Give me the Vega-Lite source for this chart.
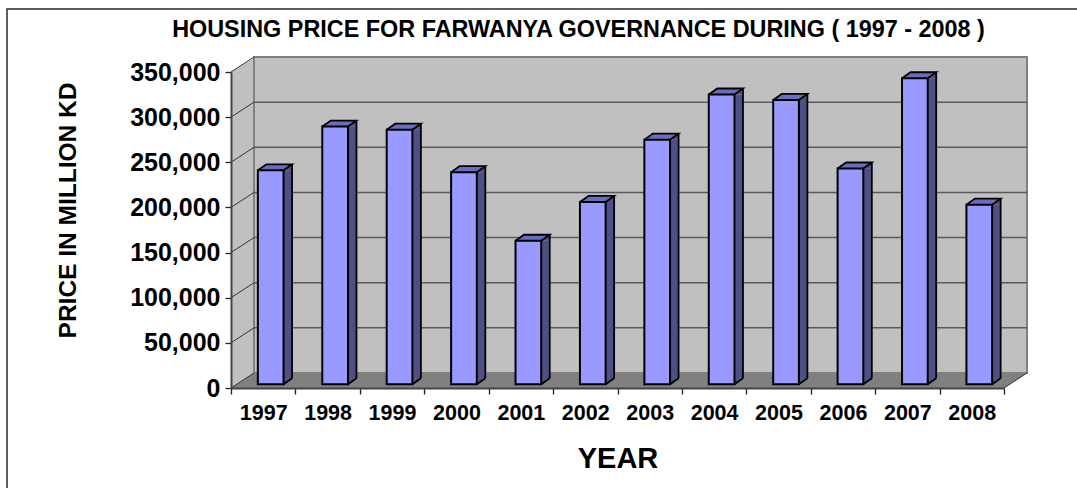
{
"$schema":"https://vega.github.io/schema/vega-lite/v6.json",
"width":773,"height":316,
"autosize":{"type":"none"},
"padding":{"left":231,"top":72,"right":73,"bottom":100},
"background":"white",
"config":{"view":{"stroke":null},"font":"Liberation Sans"},
"title":{"text":"HOUSING PRICE FOR FARWANYA GOVERNANCE DURING ( 1997 - 2008 )","font":"Liberation Sans","fontSize":23.4,"fontWeight":"bold","color":"#000000","anchor":"middle","dx":-39,"offset":-36},
"datasets":{
"bars":[
{"year":1997,"price":237000},{"year":1998,"price":285500},{"year":1999,"price":282000},{"year":2000,"price":235000},
{"year":2001,"price":159000},{"year":2002,"price":202000},{"year":2003,"price":271000},{"year":2004,"price":321000},
{"year":2005,"price":315000},{"year":2006,"price":239000},{"year":2007,"price":339000},{"year":2008,"price":199000}],
"ticks":[{"price":0},{"price":50000},{"price":100000},{"price":150000},{"price":200000},{"price":250000},{"price":300000},{"price":350000}],
"box":[{"x0":1996.5,"x1":2008.5,"p0":0,"p1":350000}]
},
"data":{"name":"bars"},
"resolve":{"axis":{"x":"independent","y":"independent"}},
"layer":[
{"data":{"name":"box"},"mark":{"type":"point","shape":"M-224 416L-224 -63L846 -63","size":4,"filled":false,"stroke":"#2a2a2a","strokeWidth":1.5,"opacity":1,"clip":false},
 "encoding":{"x":{"field":"x0","type":"quantitative","scale":{"domain":[1996.5,2008.5],"nice":false,"zero":false,"padding":0},
   "axis":{"values":[1996.5,1997.5,1998.5,1999.5,2000.5,2001.5,2002.5,2003.5,2004.5,2005.5,2006.5,2007.5,2008.5],"labelExpr":"datum.value<2008 ? format(datum.value+0.5,'d') : ''","labelOffset":32.2,"labelFlush":false,"labelOverlap":false,"labelFont":"Liberation Sans","labelFontSize":21.5,"labelFontWeight":"bold","labelColor":"#000000","labelPadding":8,"grid":false,"title":"YEAR","titleFontSize":29,"titleFontWeight":"bold","titleColor":"#000000","titlePadding":21,"tickColor":"#222222","tickSize":6,"tickWidth":1.3,"domainColor":"#444444","domainWidth":2,"zindex":1}},
  "y":{"field":"p1","type":"quantitative","scale":{"domain":[0,350000],"nice":false},
   "axis":{"values":[0,50000,100000,150000,200000,250000,300000,350000],"format":",d","grid":false,"title":"PRICE IN MILLION KD","titleFontSize":24.5,"titleFontWeight":"bold","titleColor":"#000000","titleX":-156,"titleY":138,"titleBaseline":"alphabetic","labelFont":"Liberation Sans","labelFontSize":25,"labelFontWeight":"bold","labelColor":"#000000","labelPadding":5,"tickColor":"#222222","tickSize":6,"tickWidth":1.3,"domainColor":"#444444","domainWidth":2,"zindex":1}}}},
{"data":{"name":"box"},"mark":{"type":"point","shape":"M0 0L23 -15L23 -330L0 -316Z","size":4,"filled":true,"fill":"#C0C0C0","stroke":null,"opacity":1},
 "encoding":{"x":{"field":"x0","type":"quantitative","axis":null},"y":{"field":"p0","type":"quantitative","axis":null}}},
{"data":{"name":"box"},"mark":{"type":"rect","fill":"#C0C0C0","stroke":"#808080","strokeWidth":2,"xOffset":23,"x2Offset":23,"yOffset":-15,"y2Offset":-15},
 "encoding":{"x":{"field":"x0","type":"quantitative","axis":null},"x2":{"field":"x1"},"y":{"field":"p0","type":"quantitative","axis":null},"y2":{"field":"p1"}}},
{"data":{"name":"ticks"},"transform":[{"filter":"datum.price>0 && datum.price<350000"}],"mark":{"type":"rule","stroke":"#5a5a5a","strokeWidth":1.5,"xOffset":23,"x2Offset":23,"yOffset":-15},
 "encoding":{"x":{"datum":1996.5,"type":"quantitative","axis":null},"x2":{"datum":2008.5},"y":{"field":"price","type":"quantitative","axis":null}}},
{"data":{"name":"box"},"mark":{"type":"point","shape":"M0 0L773 0L796 -15L23 -15Z","size":4,"filled":true,"fill":"#808080","stroke":null,"opacity":1},
 "encoding":{"x":{"field":"x0","type":"quantitative","axis":null},"y":{"field":"p0","type":"quantitative","axis":null}}},
{"data":{"name":"ticks"},"mark":{"type":"point","shape":"M0 0L23 -15","size":4,"filled":false,"stroke":"#333333","strokeWidth":1,"opacity":1},
 "encoding":{"x":{"datum":1996.5,"type":"quantitative","axis":null},"y":{"field":"price","type":"quantitative","axis":null}}},
{"data":{"name":"box"},"mark":{"type":"point","shape":"M773 0L796 -15","size":4,"filled":false,"stroke":"#333333","strokeWidth":1,"opacity":1},
 "encoding":{"x":{"field":"x0","type":"quantitative","axis":null},"y":{"field":"p0","type":"quantitative","axis":null}}},
{"mark":{"type":"bar","orient":"vertical","size":8.5,"fill":"#4F4F85","xOffset":24.6,"x2Offset":24.6,"yOffset":-3.7,"y2Offset":-9.7},
 "encoding":{"x":{"field":"year","type":"quantitative","axis":null},"y":{"field":"price","type":"quantitative","axis":null},"y2":{"datum":0}}},
{"mark":{"type":"point","shape":"M20.35 -3.7L28.85 -9.7L20.35 -9.7Z","size":4,"filled":true,"fill":"#4F4F85","stroke":null,"opacity":1},
 "encoding":{"x":{"field":"year","type":"quantitative","axis":null},"y":{"datum":0,"type":"quantitative","axis":null}}},
{"mark":{"type":"point","shape":"M20.35 -3.7L28.85 -9.7","size":4,"filled":false,"stroke":"#000000","strokeWidth":1.8,"opacity":1},
 "encoding":{"x":{"field":"year","type":"quantitative","axis":null},"y":{"datum":0,"type":"quantitative","axis":null}}},
{"mark":{"type":"point","shape":"M-5.35 -3.7L3.15 -9.7L28.85 -9.7L20.35 -3.7Z","size":4,"filled":true,"fill":"#6B6BBF","stroke":null,"opacity":1},
 "encoding":{"x":{"field":"year","type":"quantitative","axis":null},"y":{"field":"price","type":"quantitative","axis":null}}},
{"mark":{"type":"point","shape":"M20.35 -3.7L28.85 -9.7L28.85 -3.7Z","size":4,"filled":true,"fill":"#4F4F85","stroke":null,"opacity":1},
 "encoding":{"x":{"field":"year","type":"quantitative","axis":null},"y":{"field":"price","type":"quantitative","axis":null}}},
{"mark":{"type":"rule","stroke":"#000000","strokeWidth":1.8,"xOffset":28.85,"yOffset":-9.7,"y2Offset":-9.7},
 "encoding":{"x":{"field":"year","type":"quantitative","axis":null},"y":{"field":"price","type":"quantitative","axis":null},"y2":{"datum":0}}},
{"mark":{"type":"point","shape":"M-5.35 -3.7L3.15 -9.7L28.85 -9.7L20.35 -3.7","size":4,"filled":false,"stroke":"#000000","strokeWidth":1.8,"opacity":1},
 "encoding":{"x":{"field":"year","type":"quantitative","axis":null},"y":{"field":"price","type":"quantitative","axis":null}}},
{"mark":{"type":"bar","orient":"vertical","size":25.7,"fill":"#9999FF","stroke":"#000000","strokeWidth":2,"xOffset":7.5,"x2Offset":7.5,"yOffset":-3.7,"y2Offset":-3.7},
 "encoding":{"x":{"field":"year","type":"quantitative","axis":null},
  "y":{"field":"price","type":"quantitative","axis":null},"y2":{"datum":0}}}
]
}
